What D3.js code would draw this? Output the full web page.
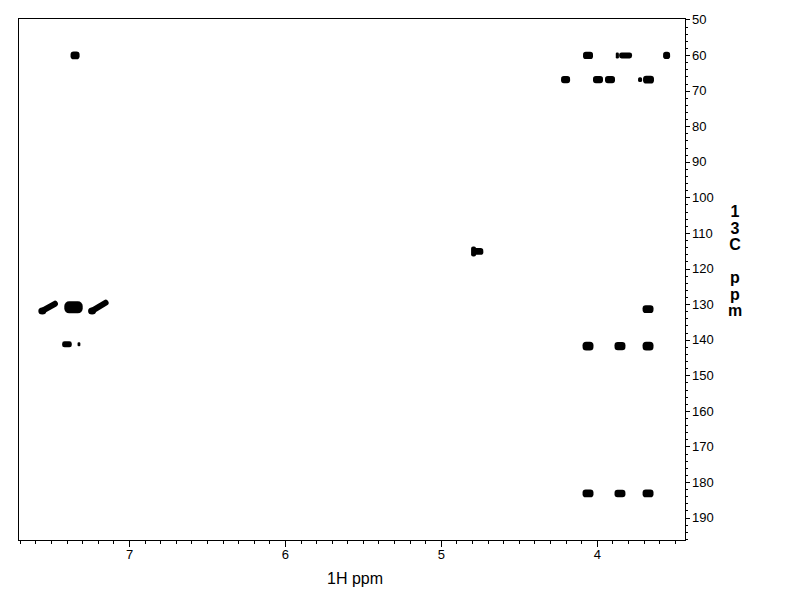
<!DOCTYPE html>
<html>
<head>
<meta charset="utf-8">
<script src="https://cdn.jsdelivr.net/npm/d3@7"></script>
<style>
  html, body { margin: 0; padding: 0; background: #fff; }
  svg { display: block; }
  text { font-family: "Liberation Sans", Arial, sans-serif; fill: #000; }
</style>
</head>
<body>
<svg id="chart" width="792" height="612"></svg>
<script>
// ---- data (1H ppm, 13C ppm, width in 1H ppm, height in 13C ppm) ----
const peakH  = [7.346, 4.056, 3.868, 3.815, 3.552,
                4.200, 3.992, 3.915, 3.722, 3.668,
                4.790, 4.760,
                7.356,
                7.398, 7.321,
                4.056, 3.851, 3.671, 3.671,
                4.056, 3.851, 3.671];
const peakC  = [60.1, 60.1, 60.1, 60.1, 60.1,
                66.9, 66.9, 66.9, 66.9, 66.9,
                115.2, 115.2,
                130.9,
                141.3, 141.3,
                141.8, 141.8, 141.8, 131.4,
                183.2, 183.2, 183.2];
const peakWH = [0.058, 0.064, 0.020, 0.083, 0.045,
                0.058, 0.064, 0.064, 0.026, 0.070,
                0.032, 0.065,
                0.118,
                0.062, 0.018,
                0.070, 0.070, 0.070, 0.070,
                0.070, 0.070, 0.070];
const peakWC = [2.2, 2.0, 1.7, 1.7, 2.0,
                2.0, 2.0, 2.0, 1.4, 2.2,
                2.8, 1.9,
                3.4,
                1.7, 1.1,
                2.5, 2.3, 2.5, 2.2,
                2.2, 2.1, 2.2];
// diagonal streaks (aromatic multiplets): start / end
const streakH1 = [7.556, 7.237];
const streakC1 = [131.9, 131.9];
const streakH2 = [7.475, 7.150];
const streakC2 = [129.9, 129.6];

const xTickLabels = [7, 6, 5, 4];
const yTickLabels = [50, 60, 70, 80, 90, 100, 110, 120, 130, 140, 150, 160, 170, 180, 190];
const xTitle = "1H ppm";
const yTitle = ["1", "3", "C", "", "p", "p", "m"];

// ---- layout ----
const L = 18, R = 685, T = 18, B = 540;
const svg = d3.select("#chart");

const x = d3.scaleLinear().domain([7.712, 3.434]).range([L, R]);
const y = d3.scaleLinear().domain([49.58, 196.3]).range([T, B]);

// minor tick positions
const xMinor = d3.range(35, 78).map(v => v / 10);
const yMinor = d3.range(50, 197, 2);

// x axis (bottom)
const gxMinor = svg.append("g").attr("transform", `translate(0,${B})`)
  .call(d3.axisBottom(x).tickValues(xMinor).tickSize(4).tickFormat(""));
const gxMajor = svg.append("g").attr("transform", `translate(0,${B})`)
  .call(d3.axisBottom(x).tickValues(xTickLabels).tickSize(7).tickPadding(3).tickFormat(d3.format("d")));
// y axis (right)
const gyMinor = svg.append("g").attr("transform", `translate(${R},0)`)
  .call(d3.axisRight(y).tickValues(yMinor).tickSize(3).tickFormat(""));
const gyMajor = svg.append("g").attr("transform", `translate(${R},0)`)
  .call(d3.axisRight(y).tickValues(yTickLabels).tickSize(5).tickPadding(2).tickFormat(d3.format("d")));

[gxMinor, gxMajor, gyMinor, gyMajor].forEach(g => {
  g.select(".domain").remove();
  g.selectAll("line").attr("stroke", "#000").attr("shape-rendering", "crispEdges");
  g.selectAll("text").style("font-size", "13px").attr("fill", "#000")
   .style("font-family", "'Liberation Sans', Arial, sans-serif");
});

// frame
svg.append("rect")
  .attr("x", L + 0.5).attr("y", T + 0.5)
  .attr("width", R - L).attr("height", B - T)
  .attr("fill", "none").attr("stroke", "#000").attr("stroke-width", 1)
  .attr("shape-rendering", "crispEdges");

// peaks as filled contour blobs
const peaks = peakH.map((h, i) => ({h, c: peakC[i], wh: peakWH[i], wc: peakWC[i]}));
svg.append("g").selectAll("rect").data(peaks).join("rect")
  .attr("x", d => Math.min(x(d.h + d.wh / 2), x(d.h - d.wh / 2)))
  .attr("y", d => y(d.c - d.wc / 2))
  .attr("width", d => Math.abs(x(d.h + d.wh / 2) - x(d.h - d.wh / 2)))
  .attr("height", d => Math.abs(y(d.c + d.wc / 2) - y(d.c - d.wc / 2)))
  .attr("rx", d => Math.min(Math.abs(x(d.h + d.wh / 2) - x(d.h - d.wh / 2)),
                            Math.abs(y(d.c + d.wc / 2) - y(d.c - d.wc / 2))) * 0.4)
  .attr("fill", "#000");

const streaks = streakH1.map((h, i) => ({h1: h, c1: streakC1[i], h2: streakH2[i], c2: streakC2[i]}));
const sg = svg.append("g");
sg.selectAll("line").data(streaks).join("line")
  .attr("x1", d => x(d.h1)).attr("y1", d => y(d.c1))
  .attr("x2", d => x(d.h2)).attr("y2", d => y(d.c2))
  .attr("stroke", "#000").attr("stroke-width", 6).attr("stroke-linecap", "round");
sg.selectAll("ellipse").data(streaks).join("ellipse")
  .attr("cx", d => x(d.h1)).attr("cy", d => y(d.c1))
  .attr("rx", 4).attr("ry", 3.5)
  .attr("fill", "#000");

// axis titles
svg.append("text")
  .attr("x", 355).attr("y", 584)
  .attr("text-anchor", "middle")
  .style("font-size", "16px")
  .text(xTitle);

svg.append("g").selectAll("text").data(yTitle).join("text")
  .attr("x", 735)
  .attr("y", (d, i) => 217 + i * 16.5)
  .attr("text-anchor", "middle")
  .style("font-size", "16px")
  .style("font-weight", "bold")
  .text(d => d);
</script>
</body>
</html>
